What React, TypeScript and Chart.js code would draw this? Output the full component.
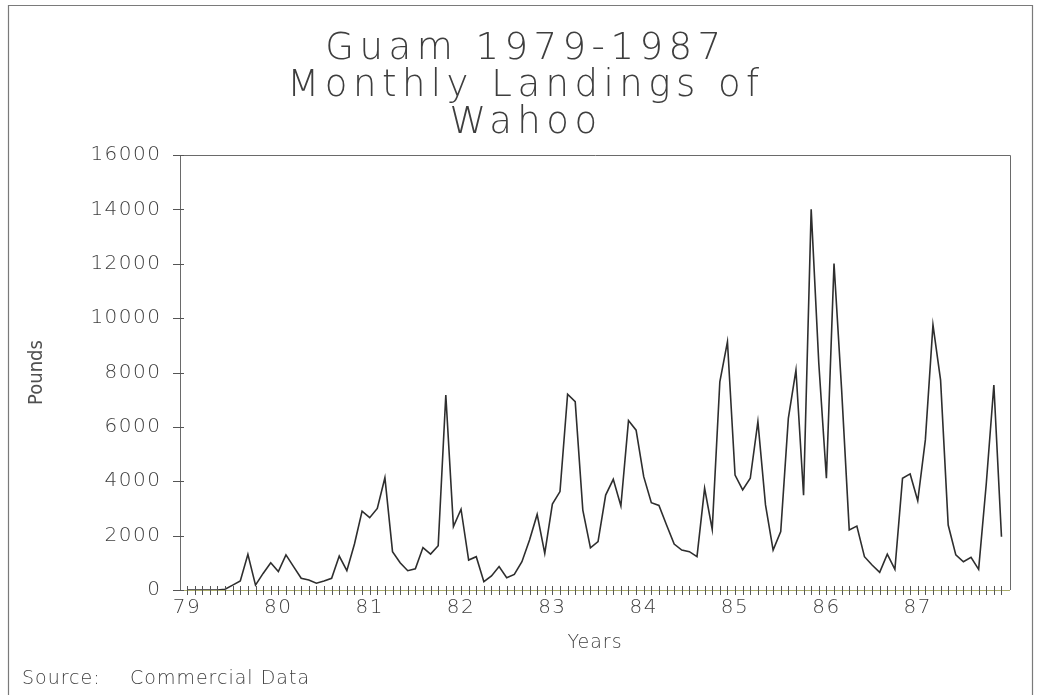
import React, { useEffect, useRef } from 'react';
import { Chart, registerables } from 'chart.js';

Chart.register(...registerables);

// ---- text ----
const TITLE_LINES = ['Guam 1979-1987', 'Monthly Landings of', 'Wahoo'];
const X_AXIS_TITLE = 'Years';
const Y_AXIS_TITLE = 'Pounds';
const SOURCE_LABEL = 'Source:';
const SOURCE_TEXT = 'Commercial Data';

// ---- axes ----
const YEAR_LABELS = ['79', '80', '81', '82', '83', '84', '85', '86', '87'];
const Y_TICKS = [0, 2000, 4000, 6000, 8000, 10000, 12000, 14000, 16000];

// ---- monthly landings (pounds), Jan..Dec ----
const POUNDS_1979 = [0, 0, 0, 0, 0, 30, 180, 330, 1310, 180, 610, 1000];
const POUNDS_1980 = [680, 1290, 860, 430, 370, 250, 330, 430, 1250, 710, 1690, 2900];
const POUNDS_1981 = [2660, 3000, 4130, 1410, 1000, 710, 780, 1560, 1320, 1630, 7170, 2330];
const POUNDS_1982 = [2970, 1100, 1225, 305, 515, 860, 450, 575, 1040, 1840, 2780, 1350];
const POUNDS_1983 = [3160, 3620, 7200, 6930, 2940, 1550, 1780, 3490, 4070, 3090, 6230, 5880];
const POUNDS_1984 = [4170, 3210, 3110, 2390, 1690, 1470, 1410, 1225, 3740, 2230, 7660, 9130];
const POUNDS_1985 = [4230, 3680, 4110, 6190, 3130, 1470, 2150, 6310, 8090, 3490, 14000, 8340];
const POUNDS_1986 = [4110, 12010, 7360, 2210, 2350, 1225, 920, 650, 1320, 760, 4110, 4270];
const POUNDS_1987 = [3280, 5520, 9750, 7720, 2390, 1290, 1040, 1200, 760, 3900, 7540, 1960];

const W = 1046;
const H = 695;
const TEXT_COLOR = '#3e3e3e';
const LINE_COLOR = '#2e2e2e';
const FONT = '"DejaVu Sans", "Liberation Sans", sans-serif';
const NARROW_FONT = '"Liberation Sans Narrow", "DejaVu Sans Condensed", "Liberation Sans", sans-serif';

export default function App() {
  const canvasRef = useRef<HTMLCanvasElement | null>(null);

  useEffect(() => {
    const canvas = canvasRef.current;
    if (!canvas) return;

    const pounds = [
      ...POUNDS_1979, ...POUNDS_1980, ...POUNDS_1981, ...POUNDS_1982, ...POUNDS_1983,
      ...POUNDS_1984, ...POUNDS_1985, ...POUNDS_1986, ...POUNDS_1987,
    ];
    const points = pounds.map((v, i) => ({ x: i, y: v }));

    const wrapSpacing = (obj: any, method: string, sp: string) => {
      if (!obj || obj['__sp_' + method]) return;
      const orig = obj[method];
      obj[method] = function (...args: any[]) {
        const ctx = this.ctx || (this.chart && this.chart.ctx);
        ctx.save();
        ctx.letterSpacing = sp;
        orig.apply(this, args);
        ctx.restore();
      };
      obj['__sp_' + method] = true;
    };

    const spacingPlugin = {
      id: 'hersheySpacing',
      afterLayout(chart: any) {
        wrapSpacing(chart.titleBlock, 'draw', '5.5px');
        wrapSpacing(chart.scales.x, 'drawLabels', '1.5px');
        wrapSpacing(chart.scales.x, 'drawTitle', '1px');
        wrapSpacing(chart.scales.y, 'drawLabels', '1.5px');
      },
    };

    const decorPlugin = {
      id: 'decor',
      beforeDraw(chart: any) {
        const ctx = chart.ctx;
        ctx.save();
        ctx.fillStyle = '#ffffff';
        ctx.fillRect(0, 0, chart.width, chart.height);
        ctx.strokeStyle = '#7a7a7a';
        ctx.lineWidth = 1.2;
        ctx.beginPath();
        ctx.moveTo(8.5, H);
        ctx.lineTo(8.5, 5.5);
        ctx.lineTo(1032.5, 5.5);
        ctx.lineTo(1032.5, H);
        ctx.stroke();
        ctx.restore();
      },
      afterDatasetsDraw(chart: any) {
        const { ctx, chartArea: a, scales } = chart;
        const x = scales.x;
        const y = scales.y;
        ctx.save();
        ctx.lineWidth = 1;
        ctx.strokeStyle = '#6a6a6a';
        ctx.beginPath();
        ctx.moveTo(a.left + 0.5, a.bottom);
        ctx.lineTo(a.left + 0.5, a.top + 0.5);
        ctx.lineTo(a.right + 0.5, a.top + 0.5);
        ctx.lineTo(a.right + 0.5, a.bottom);
        ctx.stroke();
        ctx.strokeStyle = '#a9ab6a';
        ctx.beginPath();
        ctx.moveTo(a.left, a.bottom + 0.5);
        ctx.lineTo(a.right, a.bottom + 0.5);
        ctx.stroke();
        ctx.strokeStyle = '#555555';
        ctx.beginPath();
        y.ticks.forEach((t: any) => {
          const py = Math.round(y.getPixelForValue(t.value)) + 0.5;
          ctx.moveTo(a.left - 7, py);
          ctx.lineTo(a.left + 4, py);
        });
        for (let i = 0; i < pounds.length; i++) {
          const px = Math.round(x.getPixelForValue(i)) + 0.5;
          ctx.moveTo(px, a.bottom - 4);
          ctx.lineTo(px, a.bottom + 5);
        }
        ctx.stroke();
        ctx.restore();
      },
      afterDraw(chart: any) {
        const ctx = chart.ctx;
        ctx.save();
        ctx.font = `200 19px ${FONT}`;
        ctx.letterSpacing = '1px';
        ctx.fillStyle = TEXT_COLOR;
        ctx.textBaseline = 'middle';
        ctx.textAlign = 'left';
        ctx.fillText(SOURCE_LABEL, 22, 679);
        ctx.fillText(SOURCE_TEXT, 130, 679);
        ctx.restore();
      },
    };

    const tickFont = { family: FONT, size: 20, weight: '200' as any };

    const chart = new Chart(canvas, {
      type: 'line',
      data: {
        datasets: [
          {
            data: points,
            borderColor: LINE_COLOR,
            borderWidth: 1.6,
            pointRadius: 0,
            tension: 0,
            fill: false,
          },
        ],
      },
      options: {
        responsive: false,
        animation: false,
        events: [],
        layout: { padding: { top: 0, left: 42, right: 36, bottom: 45 } },
        plugins: {
          legend: { display: false },
          tooltip: { enabled: false },
          title: {
            display: true,
            text: TITLE_LINES,
            color: TEXT_COLOR,
            font: { family: FONT, size: 37, weight: '200' as any, lineHeight: 1 },
            padding: { top: 31, bottom: 13 },
          },
        },
        scales: {
          x: {
            type: 'linear',
            min: -0.92,
            max: 108.12,
            afterBuildTicks: (scale: any) => {
              scale.ticks = YEAR_LABELS.map((_, k) => ({ value: k * 12 }));
            },
            afterFit: (scale: any) => {
              scale.height = 60;
            },
            grid: { display: false, drawTicks: false },
            border: { display: false },
            ticks: {
              autoSkip: false,
              maxRotation: 0,
              padding: 6,
              color: TEXT_COLOR,
              font: tickFont,
              callback: (v: any) => YEAR_LABELS[Math.round(Number(v) / 12)],
            },
            title: {
              display: true,
              text: X_AXIS_TITLE,
              color: TEXT_COLOR,
              font: { family: FONT, size: 19, weight: '200' as any },
              padding: { top: 0, bottom: -4 },
            },
          },
          y: {
            min: 0,
            max: 16000,
            afterBuildTicks: (scale: any) => {
              scale.ticks = Y_TICKS.map((v) => ({ value: v }));
            },
            afterFit: (scale: any) => {
              scale.width = 138;
            },
            grid: { display: false, drawTicks: false },
            border: { display: false },
            ticks: {
              padding: 18.5,
              color: TEXT_COLOR,
              font: tickFont,
              callback: (v: any) => String(v),
            },
            title: {
              display: true,
              text: Y_AXIS_TITLE,
              color: '#505050',
              font: { family: NARROW_FONT, size: 20, weight: 'normal' as any },
              padding: { top: -17, bottom: 0 },
            },
          },
        },
      },
      plugins: [decorPlugin, spacingPlugin],
    });

    return () => chart.destroy();
  }, []);

  return (
    <div style={{ position: 'absolute', left: 0, top: 0, width: W, height: H, background: '#fff' }}>
      <canvas ref={canvasRef} width={W} height={H} style={{ display: 'block', width: W, height: H }} />
    </div>
  );
}
